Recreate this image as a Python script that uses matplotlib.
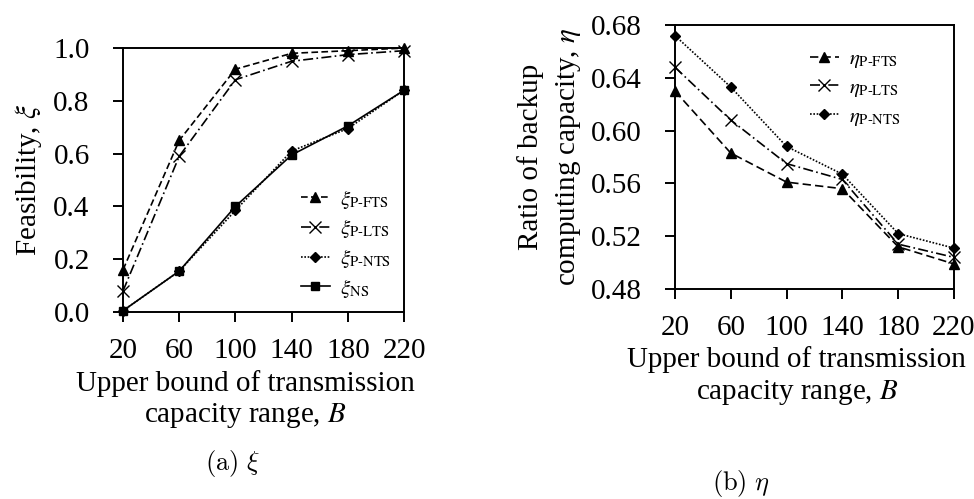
import matplotlib
matplotlib.use("Agg")
import matplotlib.pyplot as plt

plt.rcParams["font.family"] = ["Liberation Serif", "DejaVu Serif"]
plt.rcParams["mathtext.fontset"] = "stix"

bounds = [20, 60, 100, 140, 180, 220]

# (a) feasibility
xi_pfts = [0.16, 0.65, 0.92, 0.98, 0.99, 1.0]
xi_plts = [0.08, 0.59, 0.88, 0.95, 0.975, 0.99]
xi_pnts = [0.005, 0.155, 0.385, 0.61, 0.695, 0.84]
xi_ns = [0.005, 0.155, 0.40, 0.595, 0.705, 0.84]

# (b) ratio of backup computing capacity
eta_pfts = [0.630, 0.583, 0.561, 0.556, 0.512, 0.499]
eta_plts = [0.648, 0.608, 0.575, 0.563, 0.514, 0.504]
eta_pnts = [0.672, 0.633, 0.588, 0.567, 0.522, 0.511]

FS = 21
LEG_FS = 15

fig = plt.figure(figsize=(9.74, 4.99), dpi=100)
ax1 = fig.add_axes([0.1263, 0.3747, 0.2885, 0.529])
ax2 = fig.add_axes([0.693, 0.4208, 0.2864, 0.529])

lw = 1.2
ax1.plot(bounds, xi_pfts, color="black", ls=(0, (4, 2)), lw=lw, marker="^", ms=7,
         label=r"$\xi_{\mathrm{P\text{-}FTS}}$", clip_on=False)
ax1.plot(bounds, xi_plts, color="black", ls=(0, (6, 2, 1, 2)), lw=lw, marker="x", ms=9,
         label=r"$\xi_{\mathrm{P\text{-}LTS}}$", clip_on=False)
ax1.plot(bounds, xi_pnts, color="black", ls=(0, (1, 1)), lw=lw, marker="D", ms=5,
         label=r"$\xi_{\mathrm{P\text{-}NTS}}$", clip_on=False)
ax1.plot(bounds, xi_ns, color="black", ls="-", lw=lw, marker="s", ms=6,
         label=r"$\xi_{\mathrm{NS}}$", clip_on=False)

ax1.set_xlim(20, 220)
ax1.set_ylim(0, 1.0)
ax1.set_xticks(bounds)
ax1.set_yticks([0.0, 0.2, 0.4, 0.6, 0.8, 1.0])
ax1.set_yticklabels(["0.0", "0.2", "0.4", "0.6", "0.8", "1.0"])
ax1.set_ylabel(r"Feasibility, $\xi$", fontsize=FS)
ax1.yaxis.set_label_coords(-0.28, 0.5)
ax1.set_xlabel("Upper bound of transmission\ncapacity range, $B$", fontsize=FS, linespacing=1.2)
ax1.xaxis.set_label_coords(0.434, -0.22)
ax1.legend(loc="lower right", bbox_to_anchor=(1.0, 0.0), frameon=False, fontsize=LEG_FS,
           handlelength=1.4, handletextpad=0.5, labelspacing=0.32, borderaxespad=0.2)

ax2.plot(bounds, eta_pfts, color="black", ls=(0, (5, 2.5)), lw=lw, marker="^", ms=7,
         label=r"$\eta_{\mathrm{P\text{-}FTS}}$", clip_on=False)
ax2.plot(bounds, eta_plts, color="black", ls=(0, (6, 2, 1, 2)), lw=lw, marker="x", ms=9,
         label=r"$\eta_{\mathrm{P\text{-}LTS}}$", clip_on=False)
ax2.plot(bounds, eta_pnts, color="black", ls=(0, (1, 1)), lw=lw, marker="D", ms=5,
         label=r"$\eta_{\mathrm{P\text{-}NTS}}$", clip_on=False)

ax2.set_xlim(20, 220)
ax2.set_ylim(0.48, 0.68)
ax2.set_xticks(bounds)
ax2.set_yticks([0.48, 0.52, 0.56, 0.60, 0.64, 0.68])
ax2.set_yticklabels(["0.48", "0.52", "0.56", "0.60", "0.64", "0.68"])
ax2.set_ylabel("Ratio of backup\ncomputing capacity, $\\eta$", fontsize=FS, linespacing=1.45)
ax2.yaxis.set_label_coords(-0.33, 0.5)
ax2.set_xlabel("Upper bound of transmission\ncapacity range, $B$", fontsize=FS, linespacing=1.25)
ax2.xaxis.set_label_coords(0.437, -0.215)
ax2.legend(loc="upper right", bbox_to_anchor=(0.84, 0.94), frameon=False, fontsize=LEG_FS,
           handlelength=1.4, handletextpad=0.5, labelspacing=0.4, borderaxespad=0.0)

for ax in (ax1, ax2):
    for s in ax.spines.values():
        s.set_linewidth(1.4)
    ax.tick_params(axis="both", direction="out", length=7, width=1.4, labelsize=FS)
    ax.tick_params(axis="y", pad=17)
    ax.tick_params(axis="x", pad=12)

fig.text(0.239, 0.072, r"$\mathrm{(a)}\ \xi$", fontsize=19, ha="center", va="center",
         math_fontfamily="cm")
fig.text(0.761, 0.032, r"$\mathrm{(b)}\ \eta$", fontsize=19, ha="center", va="center",
         math_fontfamily="cm")

fig.savefig("out.png", dpi=100)
